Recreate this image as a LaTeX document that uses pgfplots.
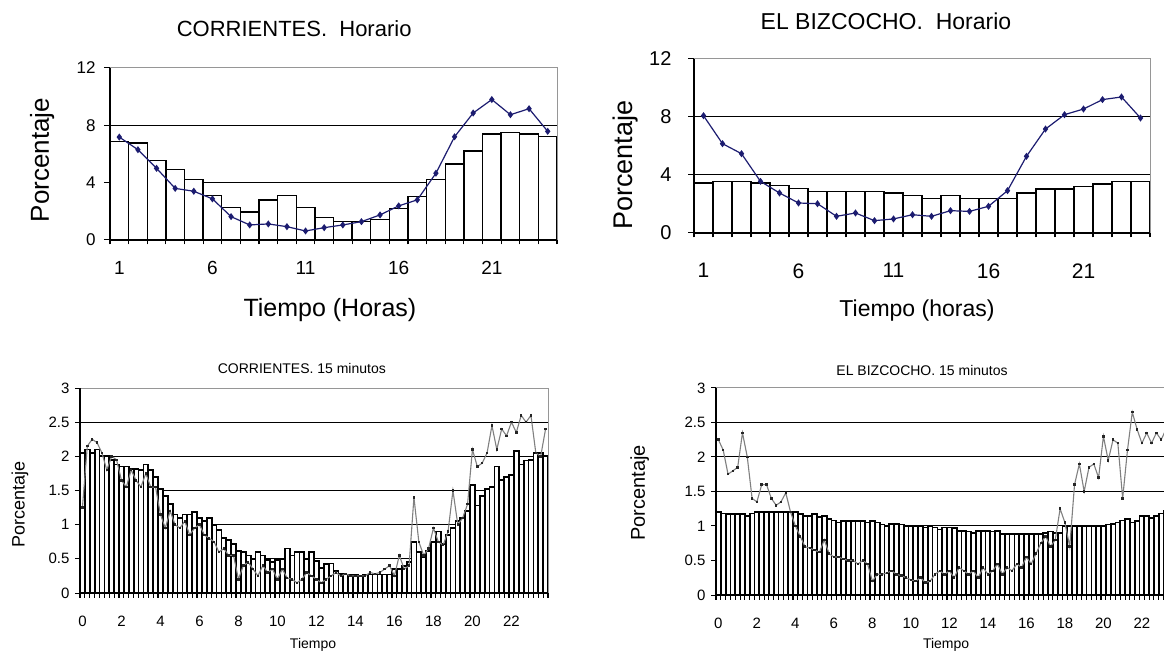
\documentclass[border=0pt]{standalone}
\usepackage{fontspec}
\setmainfont{Liberation Sans}
\usepackage{pgfplots}
\pgfplotsset{compat=1.18}
\usepackage{pgfplotstable}

\definecolor{navyline}{RGB}{28,28,112}
\definecolor{framegray}{RGB}{150,150,150}
\newcommand{\fs}[1]{\fontsize{#1bp}{#1bp}\selectfont}

\pgfplotstableread{
x bar line
1 6.88 7.18
2 6.76 6.30
3 5.55 5.00
4 4.90 3.60
5 4.24 3.40
6 3.10 2.87
7 2.28 1.63
8 1.96 1.05
9 2.80 1.12
10 3.10 0.93
11 2.28 0.63
12 1.58 0.86
13 1.28 1.05
14 1.28 1.28
15 1.45 1.75
16 2.20 2.38
17 3.05 2.80
18 4.20 4.66
19 5.30 7.20
20 6.20 8.86
21 7.40 9.80
22 7.50 8.74
23 7.39 9.16
24 7.23 7.58
}\corrH

\pgfplotstableread{
x bar line
1 3.45 8.09
2 3.56 6.16
3 3.56 5.47
4 3.45 3.56
5 3.26 2.76
6 3.06 2.07
7 2.87 2.02
8 2.87 1.15
9 2.87 1.38
10 2.87 0.85
11 2.76 0.97
12 2.57 1.26
13 2.39 1.15
14 2.57 1.54
15 2.39 1.49
16 2.39 1.84
17 2.39 2.92
18 2.76 5.29
19 3.03 7.17
20 3.03 8.16
21 3.22 8.55
22 3.38 9.20
23 3.56 9.38
24 3.56 7.93
}\bizH

\pgfplotstableread{
h bar line
0.00 2.05 1.25
0.25 2.10 2.15
0.50 2.05 2.25
0.75 2.10 2.20
1.00 2.00 2.05
1.25 2.00 1.80
1.50 1.95 2.00
1.75 1.88 1.95
2.00 1.85 1.65
2.25 1.85 1.55
2.50 1.82 1.80
2.75 1.82 1.65
3.00 1.80 1.55
3.25 1.88 1.75
3.50 1.80 1.55
3.75 1.70 1.55
4.00 1.52 1.15
4.25 1.42 0.95
4.50 1.30 1.20
4.75 1.15 1.00
5.00 1.10 0.95
5.25 1.15 1.05
5.50 1.15 0.85
5.75 1.18 0.95
6.00 1.10 1.00
6.25 1.05 0.85
6.50 1.10 0.80
6.75 1.00 0.75
7.00 0.92 0.60
7.25 0.80 0.65
7.50 0.78 0.55
7.75 0.72 0.55
8.00 0.62 0.20
8.25 0.60 0.40
8.50 0.55 0.45
8.75 0.50 0.35
9.00 0.60 0.25
9.25 0.55 0.40
9.50 0.48 0.30
9.75 0.45 0.35
10.00 0.48 0.20
10.25 0.50 0.35
10.50 0.65 0.22
10.75 0.55 0.20
11.00 0.60 0.15
11.25 0.60 0.20
11.50 0.50 0.30
11.75 0.60 0.25
12.00 0.47 0.20
12.25 0.37 0.15
12.50 0.42 0.20
12.75 0.43 0.25
13.00 0.32 0.30
13.25 0.28 0.25
13.50 0.27 0.28
13.75 0.27 0.25
14.00 0.27 0.25
14.25 0.25 0.25
14.50 0.27 0.25
14.75 0.27 0.30
15.00 0.27 0.28
15.25 0.27 0.30
15.50 0.27 0.35
15.75 0.27 0.40
16.00 0.35 0.25
16.25 0.35 0.55
16.50 0.40 0.35
16.75 0.45 0.40
17.00 0.75 1.40
17.25 0.60 0.75
17.50 0.52 0.55
17.75 0.62 0.65
18.00 0.75 0.95
18.25 0.90 0.75
18.50 0.72 0.70
18.75 0.85 0.90
19.00 0.95 1.50
19.25 1.05 1.00
19.50 1.10 1.10
19.75 1.20 1.30
20.00 1.58 2.10
20.25 1.28 1.85
20.50 1.42 1.90
20.75 1.52 2.05
21.00 1.55 2.45
21.25 1.85 2.10
21.50 1.65 2.40
21.75 1.70 2.30
22.00 1.73 2.50
22.25 2.08 2.35
22.50 1.88 2.60
22.75 1.94 2.50
23.00 1.95 2.60
23.25 2.05 2.05
23.50 2.05 2.00
23.75 2.00 2.40
}\corrQ

\pgfplotstableread{
h bar line
0.00 1.20 2.25
0.25 1.18 2.10
0.50 1.17 1.75
0.75 1.17 1.80
1.00 1.17 1.85
1.25 1.17 2.35
1.50 1.15 2.00
1.75 1.18 1.40
2.00 1.20 1.35
2.25 1.20 1.60
2.50 1.20 1.60
2.75 1.20 1.40
3.00 1.20 1.30
3.25 1.20 1.35
3.50 1.20 1.48
3.75 1.20 1.20
4.00 1.20 1.00
4.25 1.17 0.85
4.50 1.15 0.70
4.75 1.15 0.68
5.00 1.17 0.65
5.25 1.13 0.62
5.50 1.15 0.80
5.75 1.10 0.60
6.00 1.08 0.55
6.25 1.05 0.55
6.50 1.07 0.52
6.75 1.07 0.50
7.00 1.07 0.50
7.25 1.07 0.45
7.50 1.07 0.50
7.75 1.05 0.45
8.00 1.07 0.20
8.25 1.05 0.30
8.50 1.02 0.30
8.75 1.00 0.32
9.00 1.03 0.35
9.25 1.03 0.30
9.50 1.02 0.28
9.75 1.00 0.25
10.00 1.00 0.22
10.25 1.00 0.20
10.50 1.00 0.25
10.75 0.98 0.18
11.00 1.00 0.20
11.25 0.98 0.30
11.50 0.95 0.35
11.75 0.98 0.30
12.00 0.98 0.35
12.25 0.97 0.25
12.50 0.93 0.40
12.75 0.93 0.35
13.00 0.92 0.30
13.25 0.90 0.35
13.50 0.93 0.25
13.75 0.93 0.40
14.00 0.93 0.30
14.25 0.92 0.35
14.50 0.93 0.45
14.75 0.88 0.30
15.00 0.88 0.40
15.25 0.88 0.35
15.50 0.88 0.45
15.75 0.88 0.40
16.00 0.88 0.55
16.25 0.88 0.45
16.50 0.88 0.60
16.75 0.88 0.75
17.00 0.90 0.85
17.25 0.92 0.70
17.50 0.90 0.80
17.75 0.90 1.25
18.00 1.00 1.05
18.25 1.00 0.70
18.50 1.00 1.60
18.75 1.00 1.90
19.00 1.00 1.50
19.25 1.00 1.85
19.50 1.00 1.90
19.75 1.00 1.70
20.00 1.00 2.30
20.25 1.02 1.95
20.50 1.03 2.25
20.75 1.05 2.20
21.00 1.08 1.40
21.25 1.10 2.10
21.50 1.05 2.65
21.75 1.07 2.40
22.00 1.15 2.20
22.25 1.15 2.35
22.50 1.12 2.20
22.75 1.15 2.35
23.00 1.18 2.25
23.25 1.22 2.40
23.50 1.20 2.30
23.75 1.22 2.35
}\bizQ

\pgfplotsset{
  base/.style={
    scale only axis, anchor=south west, clip=false,
    axis line style={draw=none},
    tickpos=left, tick align=outside,
    ymajorgrids, grid style={black, line width=1bp},
    major tick length=6bp, minor tick length=7bp,
    every tick/.style={black, line width=1bp},
    every major x tick/.style={draw=none},
    every minor x tick/.style={black, line width=1.1bp, yshift=2.5bp},
    /pgf/number format/assume math mode=true,
    after end axis/.code={
      \draw[framegray, line width=1bp] (rel axis cs:0,1) -- (rel axis cs:1,1) -- (rel axis cs:1,0);
      \draw[black, line width=1.2bp] (rel axis cs:0,1) -- (rel axis cs:0,0) -- (rel axis cs:1,0);
    },
  },
  hourly/.style={
    base,
    xmin=0.5, xmax=24.5, ymin=0, ymax=12,
    ytick={0,4,8,12}, xtick={1,6,11,16,21},
    minor xtick={0.5,1.5,...,24.5},
  },
  quarter/.style={
    base,
    xmin=-0.125, xmax=23.875, ymin=0, ymax=3,
    ytick={0,0.5,1,1.5,2,2.5,3}, xtick={0,2,...,22},
    minor xtick={-0.125,0.125,...,23.875},
    major tick length=5bp,
    xticklabel style={font=\fs{15}, yshift=-15bp},
    yticklabel style={font=\fs{15}, xshift=-2bp},
    title style={font=\fs{14}},
    xlabel style={font=\fs{14}},
    ylabel style={font=\fs{18}},
  },
}

\begin{document}
\begin{tikzpicture}[x=1bp,y=1bp]
\path[use as bounding box] (0bp,0bp) rectangle (1164bp,654bp);
\clip (0bp,0bp) rectangle (1164bp,654bp);

% ---------- CORRIENTES Horario ----------
\begin{axis}[hourly, at={(110bp,414bp)}, width=447bp, height=172bp,
  title={CORRIENTES.\ \ Horario},
  title style={font=\fs{22}, at={(0.412,1.192)}, anchor=center},
  xlabel={Tiempo (Horas)},
  xlabel style={font=\fs{25}, at={(0.492,-0.407)}, anchor=center},
  ylabel={Porcentaje},
  ylabel style={font=\fs{26}, at={(-0.152,0.465)}, anchor=center},
  xticklabel style={font=\fs{19}, yshift=-12bp},
  yticklabel style={font=\fs{17}, xshift=-5bp},
]
\addplot[ybar, bar width=1, fill=white, draw=black, line width=1.3bp] table[x=x, y=bar] {\corrH};
\addplot[navyline, line width=1.2bp, mark=diamond*, mark size=2.6bp, mark options={fill=navyline}] table[x=x, y=line] {\corrH};
\end{axis}

% ---------- EL BIZCOCHO Horario ----------
\begin{axis}[hourly, at={(694bp,421bp)}, width=456bp, height=174bp,
  title={EL BIZCOCHO.\ \ Horario},
  title style={font=\fs{23}, at={(0.421,1.184)}, anchor=center},
  xlabel={Tiempo (horas)},
  xlabel style={font=\fs{23}, at={(0.489,-0.443)}, anchor=center},
  ylabel={Porcentaje},
  ylabel style={font=\fs{27}, at={(-0.151,0.39)}, anchor=center},
  xticklabel style={font=\fs{21}, yshift=-21bp},
  yticklabel style={font=\fs{20}, xshift=-13bp},
]
\addplot[ybar, bar width=1, fill=white, draw=black, line width=1.3bp] table[x=x, y=bar] {\bizH};
\addplot[navyline, line width=1.2bp, mark=diamond*, mark size=2.6bp, mark options={fill=navyline}] table[x=x, y=line] {\bizH};
\end{axis}

% ---------- CORRIENTES 15 minutos ----------
\begin{axis}[quarter, at={(80bp,61bp)}, width=468bp, height=205bp,
  title={CORRIENTES. 15 minutos},
  title style={at={(0.474,1.064)}, anchor=center},
  xlabel={Tiempo},
  xlabel style={at={(0.498,-0.254)}, anchor=center},
  ylabel={Porcentaje},
  ylabel style={at={(-0.128,0.43)}, anchor=center},
]
\addplot[ybar, bar width=0.25, fill=white, draw=black, line width=1.75bp] table[x=h, y=bar] {\corrQ};
\addplot[black!50, line width=1.1bp, mark=square*, mark size=0.7bp, mark options={black!85}] table[x=h, y=line] {\corrQ};
\end{axis}

% ---------- EL BIZCOCHO 15 minutos ----------
\begin{axis}[quarter, at={(716bp,59bp)}, width=462bp, height=207bp,
  title={EL BIZCOCHO. 15 minutos},
  title style={at={(0.446,1.058)}, anchor=center},
  xlabel={Tiempo},
  xlabel style={at={(0.498,-0.242)}, anchor=center},
  ylabel={Porcentaje},
  ylabel style={at={(-0.165,0.493)}, anchor=center, font=\fs{20}},
]
\addplot[ybar, bar width=0.25, fill=white, draw=black, line width=1.75bp] table[x=h, y=bar] {\bizQ};
\addplot[black!50, line width=1.1bp, mark=square*, mark size=0.7bp, mark options={black!85}] table[x=h, y=line] {\bizQ};
\end{axis}
\end{tikzpicture}
\end{document}
